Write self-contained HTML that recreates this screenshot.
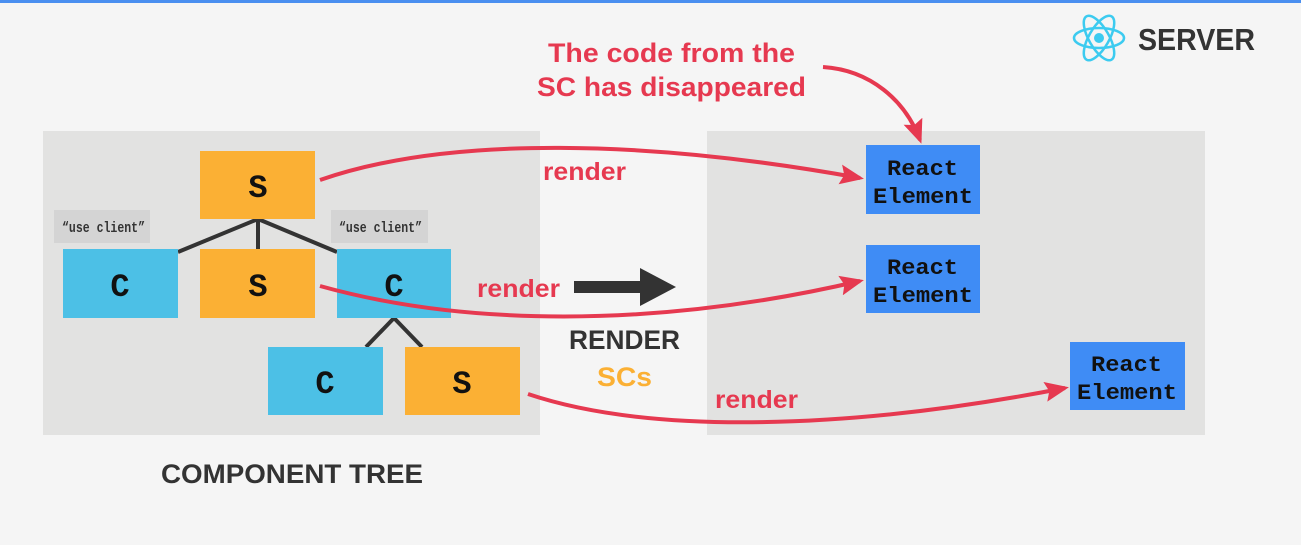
<!DOCTYPE html>
<html><head><meta charset="utf-8"><style>
html,body{margin:0;padding:0;background:#f5f5f5;}
svg{display:block;}
.b{font-family:"Liberation Sans",sans-serif;font-weight:bold;}
.m{font-family:"Liberation Mono","DejaVu Sans Mono",monospace;font-weight:bold;}
</style></head><body>
<svg width="1301" height="545" viewBox="0 0 1301 545" xmlns="http://www.w3.org/2000/svg">
<defs>
<marker id="ah" markerWidth="24" markerHeight="20" refX="20" refY="10" orient="auto" markerUnits="userSpaceOnUse" viewBox="0 0 24 20">
<path d="M0,0 L24,10 L0,20 L4,10 Z" fill="#e63950"/></marker>
</defs>
<rect x="0" y="0" width="1301" height="545" fill="#f5f5f5"/>
<rect x="0" y="0" width="1301" height="3" fill="#4a8ff0"/>
<rect x="43" y="131" width="497" height="304" fill="#e2e2e1"/>
<rect x="707" y="131" width="498" height="304" fill="#e2e2e1"/>
<g stroke="#333" stroke-width="4">
<line x1="258" y1="219" x2="178" y2="252"/>
<line x1="258" y1="219" x2="258" y2="249"/>
<line x1="258" y1="219" x2="337" y2="252"/>
<line x1="394" y1="318" x2="366" y2="347"/>
<line x1="394" y1="318" x2="422" y2="347"/>
</g>
<rect x="54" y="210" width="96" height="33" fill="#d4d4d4"/>
<rect x="331" y="210" width="97" height="33" fill="#d4d4d4"/>
<text x="62" y="232" class="m" font-size="15" fill="#333" textLength="83" lengthAdjust="spacingAndGlyphs">“use client”</text>
<text x="339" y="232" class="m" font-size="15" fill="#333" textLength="83" lengthAdjust="spacingAndGlyphs">“use client”</text>
<g class="m" font-size="32" text-anchor="middle" fill="#111">
<rect x="200" y="151" width="115" height="68" fill="#fbb034"/><text x="258" y="197">S</text>
<rect x="63" y="249" width="115" height="69" fill="#4cc0e6"/><text x="120" y="296">C</text>
<rect x="200" y="249" width="115" height="69" fill="#fbb034"/><text x="258" y="296">S</text>
<rect x="337" y="249" width="114" height="69" fill="#4cc0e6"/><text x="394" y="296">C</text>
<rect x="268" y="347" width="115" height="68" fill="#4cc0e6"/><text x="325" y="393">C</text>
<rect x="405" y="347" width="115" height="68" fill="#fbb034"/><text x="462" y="393">S</text>
</g>
<g class="m" font-size="22" fill="#111">
<rect x="866" y="145" width="114" height="69" fill="#3f8cf5"/><text x="887" y="175" textLength="71" lengthAdjust="spacingAndGlyphs">React</text><text x="873" y="203" textLength="100" lengthAdjust="spacingAndGlyphs">Element</text>
<rect x="866" y="245" width="114" height="68" fill="#3f8cf5"/><text x="887" y="274" textLength="71" lengthAdjust="spacingAndGlyphs">React</text><text x="873" y="302" textLength="100" lengthAdjust="spacingAndGlyphs">Element</text>
<rect x="1070" y="342" width="115" height="68" fill="#3f8cf5"/><text x="1091" y="371" textLength="71" lengthAdjust="spacingAndGlyphs">React</text><text x="1077" y="399" textLength="100" lengthAdjust="spacingAndGlyphs">Element</text>
</g>
<g fill="none" stroke="#e63950" stroke-width="4">
<path d="M320,180 C450,135 650,140 860,178" marker-end="url(#ah)"/>
<path d="M320,286 C460,325 650,330 860,281" marker-end="url(#ah)"/>
<path d="M528,394 C650,435 850,430 1065,388" marker-end="url(#ah)"/>
<path d="M823,67 C870,70 905,100 920,140" marker-end="url(#ah)"/>
</g>
<g class="b" fill="#e63950">
<text x="548" y="62" font-size="27" textLength="247" lengthAdjust="spacingAndGlyphs">The code from the</text>
<text x="537" y="96" font-size="27" textLength="269" lengthAdjust="spacingAndGlyphs">SC has disappeared</text>
<text x="543" y="180" font-size="25" textLength="83" lengthAdjust="spacingAndGlyphs">render</text>
<text x="477" y="297" font-size="25" textLength="83" lengthAdjust="spacingAndGlyphs">render</text>
<text x="715" y="408" font-size="25" textLength="83" lengthAdjust="spacingAndGlyphs">render</text>
</g>
<rect x="574" y="281" width="70" height="12" fill="#333"/>
<path d="M640,268 L676,287 L640,306 Z" fill="#333"/>
<text x="569" y="349" class="b" font-size="27" fill="#333" textLength="111" lengthAdjust="spacingAndGlyphs">RENDER</text>
<text x="597" y="386" class="b" font-size="27" fill="#fbb034" textLength="55" lengthAdjust="spacingAndGlyphs">SCs</text>
<text x="161" y="483" class="b" font-size="27" fill="#333" textLength="262" lengthAdjust="spacingAndGlyphs">COMPONENT TREE</text>
<g transform="translate(1099,38)" fill="none" stroke="#3ccbf0" stroke-width="2.5">
<ellipse rx="25" ry="10"/>
<ellipse rx="25" ry="10" transform="rotate(60)"/>
<ellipse rx="25" ry="10" transform="rotate(-60)"/>
<circle r="5" fill="#3ccbf0" stroke="none"/>
</g>
<text x="1138" y="50" class="b" font-size="31" fill="#333" textLength="117" lengthAdjust="spacingAndGlyphs">SERVER</text>
</svg>
</body></html>
